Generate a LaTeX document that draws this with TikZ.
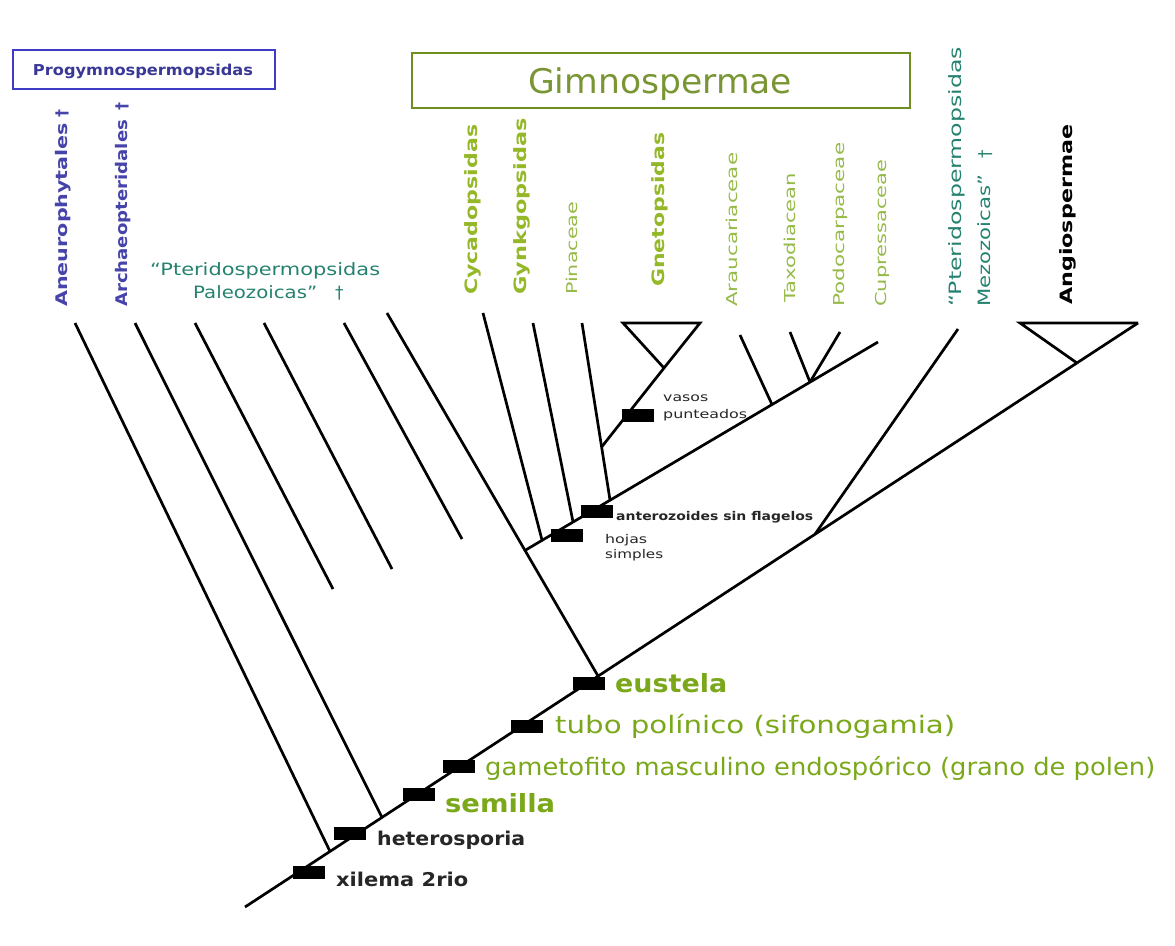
\documentclass[tikz,border=0pt]{standalone}
\usepackage{fontspec}
\setmainfont{DejaVu Sans}
\usepackage{graphicx}
% stretch a label to a given length, keeping its natural height
\newcommand{\fitw}[2]{\resizebox{#1}{\height}{#2}}
\newcommand{\fsz}[1]{\fontsize{#1}{#1}\selectfont}

\definecolor{boxblue}{RGB}{62,60,196}
\definecolor{progtext}{RGB}{58,56,150}
\definecolor{progleaf}{RGB}{70,68,170}
\definecolor{gymbox}{RGB}{112,142,32}
\definecolor{gymtext}{RGB}{122,150,52}
\definecolor{gymbold}{RGB}{148,184,40}
\definecolor{gymfam}{RGB}{150,186,72}
\definecolor{pterteal}{RGB}{38,130,112}
\definecolor{annogreen}{RGB}{122,168,26}

\begin{document}
\begin{tikzpicture}[x=1pt,y=-1pt,
  branch/.style={line width=2.7pt, line join=miter},
  synbox/.style={fill=black, draw=none, minimum width=32pt, minimum height=13pt, inner sep=0pt},
  vlab/.style={rotate=90, anchor=west, inner sep=0pt},
  hlab/.style={anchor=base west, inner sep=0pt},
  groupbox/.style={line width=2.8pt, fill=white, inner sep=0pt},
  synsmall/.style={hlab, font=\bfseries\fsz{12}, text=black!85},
  synbig/.style={hlab, font=\fsz{24}, text=annogreen},
  synblack/.style={hlab, font=\bfseries\fsz{19}, text=black!85},
]
\useasboundingbox (0,0) rectangle (1175,945);
\fill[white] (0,0) rectangle (1175,945);

% ---------- group boxes ----------
\node[groupbox, draw=boxblue, minimum width=262pt, minimum height=39pt] (progbox) at (144,69.5) {};
\node[text=progtext, font=\bfseries\fsz{15}, inner sep=0pt] (progname) at (143,71) {\fitw{220pt}{Progymnospermopsidas}};
\node[groupbox, draw=gymbox, minimum width=498pt, minimum height=55pt] (gymbox) at (661,80.5) {};
\node[text=gymtext, font=\fsz{34}, hlab] (gymname) at (528,93) {\fitw{264pt}{Gimnospermae}};

% ---------- leaf labels ----------
\node[vlab, text=progleaf, font=\bfseries\fsz{16}] (lAneu) at (63,307) {\fitw{184pt}{Aneurophytales}\hspace{5pt}†};
\node[vlab, text=progleaf, font=\bfseries\fsz{16}] (lArch) at (123,307) {\fitw{187pt}{Archaeopteridales}\hspace{9pt}†};
\node[hlab, text=pterteal, font=\fsz{17}] (lPal1) at (150,275) {\fitw{230pt}{“Pteridospermopsidas}};
\node[hlab, text=pterteal, font=\fsz{17}] (lPal2) at (193,298) {\fitw{124pt}{Paleozoicas”}\hspace{18pt}†};
\node[vlab, text=gymbold, font=\bfseries\fsz{17}] (lCyc) at (473,295) {\fitw{170pt}{Cycadopsidas}};
\node[vlab, text=gymbold, font=\bfseries\fsz{17}] (lGin) at (522,295) {\fitw{177pt}{Gynkgopsidas}};
\node[vlab, text=gymfam, font=\fsz{15}] (lPin) at (572,295) {\fitw{93pt}{Pinaceae}};
\node[vlab, text=gymbold, font=\bfseries\fsz{17}] (lGne) at (660,287) {\fitw{154pt}{Gnetopsidas}};
\node[vlab, text=gymfam, font=\fsz{15}] (lAra) at (732,307) {\fitw{154pt}{Araucariaceae}};
\node[vlab, text=gymfam, font=\fsz{15}] (lTax) at (790,303) {\fitw{130pt}{Taxodiacean}};
\node[vlab, text=gymfam, font=\fsz{15}] (lPod) at (840,307) {\fitw{164pt}{Podocarpaceae}};
\node[vlab, text=gymfam, font=\fsz{15}] (lCup) at (882,307) {\fitw{147pt}{Cupressaceae}};
\node[vlab, text=pterteal, font=\fsz{17}] (lMez1) at (957,307) {\fitw{260pt}{“Pteridospermopsidas}};
\node[vlab, text=pterteal, font=\fsz{17}] (lMez2) at (985,307) {\fitw{132pt}{Mezozoicas”}\hspace{16pt}†};
\node[vlab, text=black, font=\bfseries\fsz{17}] (lAng) at (1068,305) {\fitw{180pt}{Angiospermae}};

% ---------- tree coordinates ----------
\coordinate (root) at (245,907);
\coordinate (tip)  at (1138,323);
\coordinate (jA)   at (330,851.4);
\coordinate (tA)   at (75,323);
\coordinate (jB)   at (382,817.4);
\coordinate (tB)   at (135,323);
\coordinate (jE)   at (598,676);
\coordinate (t6)   at (387,313);
\coordinate (jM)   at (815,534.2);
\coordinate (tM)   at (958,329);
\coordinate (jAng) at (1077,363);
\coordinate (angL) at (1020,323);
% extinct seed-fern lineages
\coordinate (p1a) at (195,323); \coordinate (p1b) at (333,589);
\coordinate (p2a) at (264,323); \coordinate (p2b) at (392,569);
\coordinate (p3a) at (344,323); \coordinate (p3b) at (462,539);
% gymnosperm crown
\coordinate (g0)   at (525,550.4);
\coordinate (gEnd) at (878,342);
\coordinate (jCyc) at (542,540);
\coordinate (tCyc) at (483,313);
\coordinate (jGin) at (573,521.7);
\coordinate (tGin) at (533,323);
\coordinate (jPin) at (610,500);
\coordinate (tPin) at (582,323);
\coordinate (gn0)  at (601.6,447);
\coordinate (gnJ)  at (664,368);
\coordinate (gnR)  at (700,323);
\coordinate (gnL)  at (623,323);
\coordinate (jAra) at (772,404.5);
\coordinate (tAra) at (740,335);
\coordinate (jTP)  at (810,382.1);
\coordinate (tTax) at (790,332);
\coordinate (tPod) at (840,332);

% ---------- branches ----------
\draw[branch] (root) -- (tip);
\draw[branch] (jA) -- (tA);
\draw[branch] (jB) -- (tB);
\draw[branch] (p1a) -- (p1b);
\draw[branch] (p2a) -- (p2b);
\draw[branch] (p3a) -- (p3b);
\draw[branch] (jE) -- (t6);
\draw[branch] (g0) -- (gEnd);
\draw[branch] (jCyc) -- (tCyc);
\draw[branch] (jGin) -- (tGin);
\draw[branch] (jPin) -- (tPin);
\draw[branch] (gn0) -- (gnJ) -- (gnR) -- (gnL) -- (gnJ);
\draw[branch] (jAra) -- (tAra);
\draw[branch] (jTP) -- (tTax);
\draw[branch] (jTP) -- (tPod);
\draw[branch] (jM) -- (tM);
\draw[branch] (jAng) -- (angL) -- (tip);

% ---------- synapomorphies ----------
\node[synbox] (mXil) at (308.5,872) {};
\node[synblack] (tXil) at (336,886) {\fitw{132pt}{xilema 2rio}};
\node[synbox] (mHet) at (349.5,833) {};
\node[synblack] (tHet) at (377,845) {\fitw{148pt}{heterosporia}};
\node[synbox] (mSem) at (418.5,794.5) {};
\node[synbig, font=\bfseries\fsz{25}] (tSem) at (445,812) {\fitw{110pt}{semilla}};
\node[synbox] (mGam) at (458.5,766) {};
\node[synbig] (tGam) at (485,775) {\fitw{670pt}{gametofito masculino endospórico (grano de polen)}};
\node[synbox] (mTub) at (527,726) {};
\node[synbig] (tTub) at (555,733) {\fitw{400pt}{tubo polínico (sifonogamia)}};
\node[synbox] (mEus) at (589,683) {};
\node[synbig, font=\bfseries\fsz{25}] (tEus) at (615,692) {\fitw{112pt}{eustela}};

\node[synbox] (mHoj) at (567,535) {};
\node[synsmall, font=\fsz{12}] (tHoj1) at (605,543) {\fitw{42pt}{hojas}};
\node[synsmall, font=\fsz{12}] (tHoj2) at (605,558) {\fitw{58pt}{simples}};
\node[synbox] (mAnt) at (596.5,511) {};
\node[synsmall] (tAnt) at (616,520) {\fitw{197pt}{anterozoides sin flagelos}};
\node[synbox] (mVas) at (637.5,415.5) {};
\node[synsmall, font=\fsz{12}] (tVas1) at (663,401) {\fitw{45pt}{vasos}};
\node[synsmall, font=\fsz{12}] (tVas2) at (663,418) {\fitw{84pt}{punteados}};
\end{tikzpicture}
\end{document}
